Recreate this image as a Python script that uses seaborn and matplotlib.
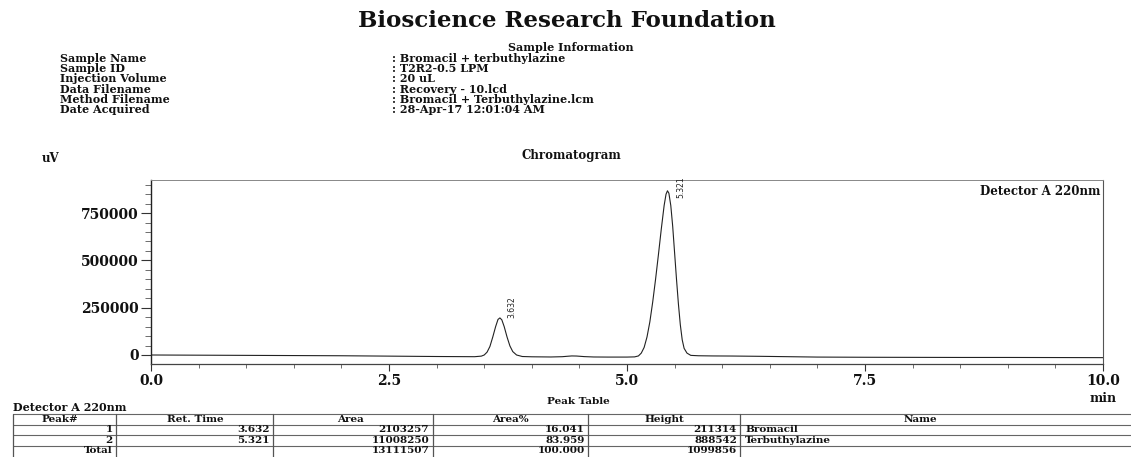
import matplotlib
matplotlib.use("Agg")
import matplotlib.pyplot as plt
from matplotlib.lines import Line2D
from matplotlib.ticker import MultipleLocator, FixedLocator
import seaborn as sns
import pandas as pd

# ---------------- data ----------------
title = "Bioscience Research Foundation"
info_labels = ["Sample Name", "Sample ID", "Injection Volume", "Data Filename",
               "Method Filename", "Date Acquired"]
info_values = [": Bromacil + terbuthylazine", ": T2R2-0.5 LPM", ": 20 uL",
               ": Recovery - 10.lcd", ": Bromacil + Terbuthylazine.lcm",
               ": 28-Apr-17 12:01:04 AM"]

# chromatogram trace (time in min, signal in uV)
# rows of 10 values each, same layout in both lists
time_min = [
    0.00, 0.50, 1.00, 1.50, 2.00, 2.50, 3.00, 3.40, 3.47, 3.50,
    3.53, 3.56, 3.59, 3.62, 3.645, 3.665, 3.685, 3.71, 3.74, 3.77,
    3.80, 3.84, 3.90, 4.00, 4.20, 4.32, 4.38, 4.42, 4.47, 4.55,
    4.65, 4.80, 5.00, 5.08, 5.12, 5.15, 5.18, 5.21, 5.24, 5.27,
    5.30, 5.33, 5.36, 5.39, 5.41, 5.425, 5.44, 5.46, 5.48, 5.50,
    5.52, 5.54, 5.56, 5.58, 5.60, 5.63, 5.67, 5.75, 5.90, 6.10,
    6.40, 6.70, 7.00, 7.50, 8.00, 8.50, 9.00, 9.50, 10.00,
]
signal_uv = [
    0, -1000, -2000, -3000, -4000, -6000, -8000, -9000, -6000, 0,
    15000, 45000, 95000, 150000, 188000, 196000, 186000, 150000, 95000, 48000,
    18000, 0, -8000, -9500, -10500, -9000, -6500, -5000, -5500, -8500,
    -10500, -11000, -11000, -10000, -5000, 10000, 40000, 95000, 175000, 280000,
    400000, 530000, 665000, 790000, 850000, 868000, 855000, 790000, 680000, 540000,
    400000, 270000, 160000, 80000, 35000, 10000, -2000, -4000, -5000, -5500,
    -7000, -9000, -11000, -12000, -12500, -13000, -13000, -13500, -14000,
]

peak_times = [3.632, 5.321]
peak_label_x = [3.79, 5.57]
peak_label_y = [195000, 830000]

y_major = [0, 250000, 500000, 750000]
x_major = [0.0, 2.5, 5.0, 7.5, 10.0]
x_tick_labels = ["0.0", "2.5", "5.0", "7.5", "10.0"]

table_header = ["Peak#", "Ret. Time", "Area", "Area%", "Height", "Name"]
peak_no = ["1", "2", "Total"]
ret_time = ["3.632", "5.321", ""]
area = ["2103257", "11008250", "13111507"]
area_pct = ["16.041", "83.959", "100.000"]
height = ["211314", "888542", "1099856"]
names = ["Bromacil", "Terbuthylazine", ""]

# ---------------- style ----------------
sns.set_theme(style="white")
plt.rcParams["font.family"] = ["DejaVu Serif"]
plt.rcParams["font.weight"] = "bold"

W, H = 1131, 457
fig = plt.figure(figsize=(W / 100, H / 100), dpi=100)
fig.patch.set_facecolor("white")


def fx(x):
    return x / W


def fy(y):
    return 1 - y / H


serif_bold = dict(family="DejaVu Serif", weight="bold", color="#111111")

# header
fig.text(fx(567), fy(21), title, ha="center", va="center", fontsize=16.5, **serif_bold)
fig.text(fx(571), fy(47.5), "Sample Information", ha="center", va="center",
         fontsize=8, **serif_bold)
for i, (lab, val) in enumerate(zip(info_labels, info_values)):
    yy = 58.5 + i * 10.2
    fig.text(fx(60), fy(yy), lab, ha="left", va="center", fontsize=8, **serif_bold)
    fig.text(fx(392), fy(yy), val, ha="left", va="center", fontsize=8, **serif_bold)

fig.text(fx(571), fy(156), "Chromatogram", ha="center", va="center",
         fontsize=8.5, **serif_bold)
fig.text(fx(42), fy(158), "uV", ha="left", va="center", fontsize=8.5, **serif_bold)

# ---------------- chromatogram ----------------
ax = fig.add_axes([151 / W, 1 - 364 / H, (1103 - 151) / W, (364 - 180) / H])
df = pd.DataFrame({"time": time_min, "signal": signal_uv})
sns.lineplot(data=df, x="time", y="signal", ax=ax, color="#222222",
             linewidth=0.8, estimator=None, sort=False)
ax.set_xlim(0, 10)
ax.set_ylim(-47600, 925000)
ax.set_xlabel("")
ax.set_ylabel("")

ax.yaxis.set_major_locator(FixedLocator(y_major))
ax.yaxis.set_minor_locator(MultipleLocator(50000))
ax.set_yticklabels([str(v) for v in y_major])
ax.xaxis.set_major_locator(FixedLocator(x_major))
ax.xaxis.set_minor_locator(MultipleLocator(0.5))
ax.set_xticklabels(x_tick_labels)

ax.tick_params(axis="y", which="major", direction="out", length=7, width=0.8,
               color="#333333", labelsize=10, pad=2, left=True)
ax.tick_params(axis="y", which="minor", direction="out", length=4, width=0.6,
               color="#555555", left=True)
ax.tick_params(axis="x", which="major", direction="out", length=5, width=0.8,
               color="#333333", labelsize=10, pad=2, bottom=True)
ax.tick_params(axis="x", which="minor", direction="out", length=3, width=0.6,
               color="#555555", bottom=True)
for lbl in ax.get_xticklabels() + ax.get_yticklabels():
    lbl.set_fontweight("bold")
    lbl.set_family("DejaVu Serif")
    lbl.set_color("#111111")

for side, col, lw in [("left", "#222222", 1.0), ("bottom", "#444444", 0.9),
                      ("top", "#888888", 0.7), ("right", "#555555", 0.8)]:
    ax.spines[side].set_visible(True)
    ax.spines[side].set_color(col)
    ax.spines[side].set_linewidth(lw)

ax.text(0.997, 0.94, "Detector A 220nm", transform=ax.transAxes, ha="right",
        va="center", fontsize=8.5, **serif_bold)
ax.text(1.0, -(398 - 364) / 184, "min", transform=ax.transAxes, ha="center",
        va="center", fontsize=9, **serif_bold)

for t, lx, ly in zip(peak_times, peak_label_x, peak_label_y):
    ax.text(lx, ly, f"{t:.3f}", rotation=90, ha="center", va="bottom",
            fontsize=5.5, family=["Liberation Sans Narrow", "DejaVu Sans"],
            weight="normal", color="#222222")

# ---------------- peak table ----------------
fig.text(fx(578), fy(401), "Peak Table", ha="center", va="center", fontsize=7.5,
         **serif_bold)
fig.text(fx(13), fy(407.5), "Detector A 220nm", ha="left", va="center", fontsize=8,
         **serif_bold)

col_edges = [13, 116, 273, 433, 588, 740]
row_lines = [414, 424.5, 435, 445.5]
for yy in row_lines:
    fig.add_artist(Line2D([fx(13), fx(1131)], [fy(yy), fy(yy)],
                          transform=fig.transFigure, color="#666666", lw=0.8))
for xx in col_edges:
    fig.add_artist(Line2D([fx(xx), fx(xx)], [fy(414), fy(462)],
                          transform=fig.transFigure, color="#555555", lw=0.9))

header_x = [60, 195, 350, 510, 664, 920]
for hx, htxt in zip(header_x, table_header):
    fig.text(fx(hx), fy(419.3), htxt, ha="center", va="center", fontsize=7.5,
             **serif_bold)

columns = [peak_no, ret_time, area, area_pct, height]
right_x = [113, 270, 429, 585, 737]
for i in range(len(peak_no)):
    yy = 429.8 + i * 10.5
    for col, rx in zip(columns, right_x):
        if col[i]:
            fig.text(fx(rx), fy(yy), col[i], ha="right", va="center", fontsize=7.5,
                     **serif_bold)
    if names[i]:
        fig.text(fx(745), fy(yy), names[i], ha="left", va="center", fontsize=7.5,
                 **serif_bold)

fig.savefig("out.png", dpi=100, facecolor="white")
